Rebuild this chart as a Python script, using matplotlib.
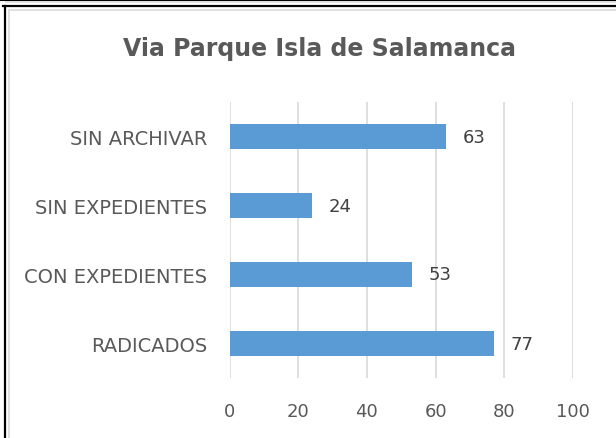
import matplotlib.pyplot as plt
from matplotlib.lines import Line2D
from matplotlib.patches import Rectangle

categories = ["RADICADOS", "CON EXPEDIENTES", "SIN EXPEDIENTES", "SIN ARCHIVAR"]
values = [77, 53, 24, 63]
xticks = [0, 20, 40, 60, 80, 100]

plt.rcParams["font.family"] = ["DejaVu Sans"]
TXT = "#595959"
BAR = "#5B9BD5"

fig = plt.figure(figsize=(6.16, 4.39), dpi=100)
W, H = 616, 439

# outer frame lines (document table borders)
fig.add_artist(Line2D([0, 1], [1 - 0.5 / H, 1 - 0.5 / H], color="black", lw=1.5))
fig.add_artist(Line2D([6 / W, 1], [1 - 3 / H, 1 - 3 / H], color="#d9d9d9", lw=1.2))
fig.add_artist(Line2D([3 / W, 1], [1 - 7 / H, 1 - 7 / H], color="black", lw=1.6))
fig.add_artist(Line2D([4.5 / W, 4.5 / W], [0, 1 - 7 / H], color="black", lw=1.6))
fig.add_artist(Rectangle((8.5 / W, -0.05), 1.1, 1 - 10.5 / H + 0.05, transform=fig.transFigure,
                         fill=False, edgecolor="#d9d9d9", lw=1.2))

ax = fig.add_axes([229.5 / W, 1 - 379 / H, (573 - 229.5) / W, (379 - 103) / H])
ypos = range(len(categories))
bars = ax.barh(ypos, values, height=0.36, color=BAR, zorder=3)
for b, v in zip(bars, values):
    ax.annotate(str(v), (b.get_width(), b.get_y() + b.get_height() / 2),
                xytext=(12, 0), textcoords="offset points", va="center", ha="left",
                fontsize=13, color="#404040")

ax.set_xlim(0, 100)
ax.set_ylim(-0.5, len(categories) - 0.5)
ax.set_xticks(xticks)
ax.set_yticks(list(ypos))
ax.set_yticklabels(categories)
ax.tick_params(axis="both", length=0, colors=TXT)
ax.tick_params(axis="x", pad=17, labelsize=13)
ax.tick_params(axis="y", pad=16, labelsize=14)
ax.grid(axis="x", color="#d9d9d9", lw=1.2, zorder=0)
for s in ax.spines.values():
    s.set_visible(False)

fig.text(320 / W, 1 - 49 / H, "Via Parque Isla de Salamanca", ha="center", va="center",
         fontsize=17, fontweight="bold", color=TXT)

fig.savefig("out.png", dpi=100)
